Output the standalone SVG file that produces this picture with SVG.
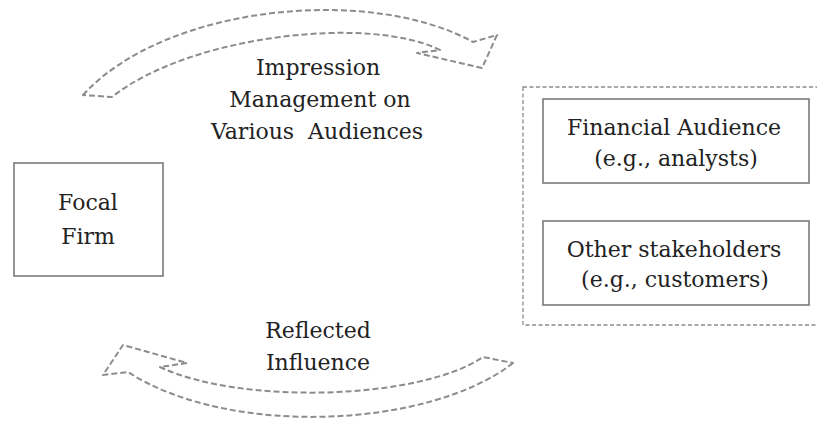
<svg xmlns="http://www.w3.org/2000/svg" width="817" height="421" viewBox="0 0 817 421">
<style>
  text { font-family: 'DejaVu Serif', serif; font-size: 22px; fill: #222; text-anchor: middle; }
  .box { fill: #fff; stroke: #7a7a7a; stroke-width: 1.6; }
  .group { fill: none; stroke: #8a8a8a; stroke-width: 1.3; stroke-dasharray: 4 2.5; }
  .arrow { fill: none; stroke: #8c8c8c; stroke-width: 2; stroke-dasharray: 6 3; stroke-linejoin: round; }
</style>
<rect width="817" height="421" fill="#fff"/>
<g id="connectors">
  <path id="impression-arrow" class="arrow" d="M83,95 C165,5 370,-15 473,42 L497,35 L482,68 L417,53 L440,50 C370,15 190,35 112,97 Z"/>
  <path id="reflected-arrow" class="arrow" d="M513,363 C430,428 230,438 128,372 L103,375 L123,345 L187,363 L160,367 C240,405 420,400 483,357 Z"/>
</g>
<g id="label-impression">
  <text x="318" y="75">Impression</text>
  <text x="320" y="107">Management on</text>
  <text x="317" y="139" xml:space="preserve">Various  Audiences</text>
</g>
<g id="label-reflected">
  <text x="318" y="338">Reflected</text>
  <text x="318" y="370">Influence</text>
</g>
<g id="focal-firm">
  <rect class="box" x="14" y="163" width="149" height="113"/>
  <text x="88" y="210">Focal</text>
  <text x="88" y="244">Firm</text>
</g>
<g id="audiences">
  <rect class="group" x="523" y="87" width="310" height="238"/>
</g>
<g id="financial-audience">
  <rect class="box" x="543" y="99" width="266" height="84"/>
  <text x="674" y="135">Financial Audience</text>
  <text x="676" y="166">(e.g., analysts)</text>
</g>
<g id="other-stakeholders">
  <rect class="box" x="543" y="221" width="266" height="84"/>
  <text x="674" y="257">Other stakeholders</text>
  <text x="675" y="287">(e.g., customers)</text>
</g>
</svg>
